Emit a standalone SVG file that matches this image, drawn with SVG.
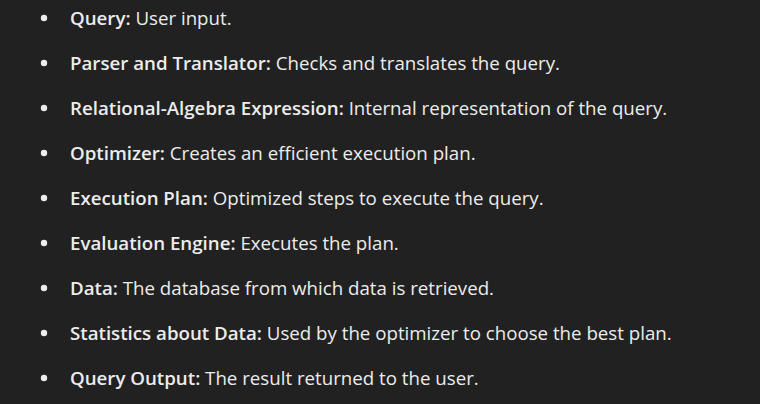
<svg xmlns="http://www.w3.org/2000/svg" width="760" height="404" viewBox="0 0 760 404">
<style>
text{font-family:"Open Sans","Noto Sans","Liberation Sans",sans-serif;font-size:18.7px;fill:#ececec}
.b{font-weight:600}
circle{fill:#ececec}
</style>
<rect width="760" height="404" fill="#212121"/>
<g id="item1"><circle cx="44" cy="18" r="3.2"/><text x="70" y="25"><tspan class="b">Query:</tspan> User input.</text></g>
<g id="item2"><circle cx="44" cy="63" r="3.2"/><text x="70" y="70"><tspan class="b">Parser and Translator:</tspan> Checks and translates the query.</text></g>
<g id="item3"><circle cx="44" cy="108" r="3.2"/><text x="70" y="115"><tspan class="b">Relational-Algebra Expression:</tspan> Internal representation of the query.</text></g>
<g id="item4"><circle cx="44" cy="153" r="3.2"/><text x="70" y="160"><tspan class="b">Optimizer:</tspan> Creates an efficient execution plan.</text></g>
<g id="item5"><circle cx="44" cy="198" r="3.2"/><text x="70" y="205"><tspan class="b">Execution Plan:</tspan> Optimized steps to execute the query.</text></g>
<g id="item6"><circle cx="44" cy="243" r="3.2"/><text x="70" y="250"><tspan class="b">Evaluation Engine:</tspan> Executes the plan.</text></g>
<g id="item7"><circle cx="44" cy="288" r="3.2"/><text x="70" y="295"><tspan class="b">Data:</tspan> The database from which data is retrieved.</text></g>
<g id="item8"><circle cx="44" cy="333" r="3.2"/><text x="70" y="340"><tspan class="b">Statistics about Data:</tspan> Used by the optimizer to choose the best plan.</text></g>
<g id="item9"><circle cx="44" cy="378" r="3.2"/><text x="70" y="385"><tspan class="b">Query Output:</tspan> The result returned to the user.</text></g>
</svg>
